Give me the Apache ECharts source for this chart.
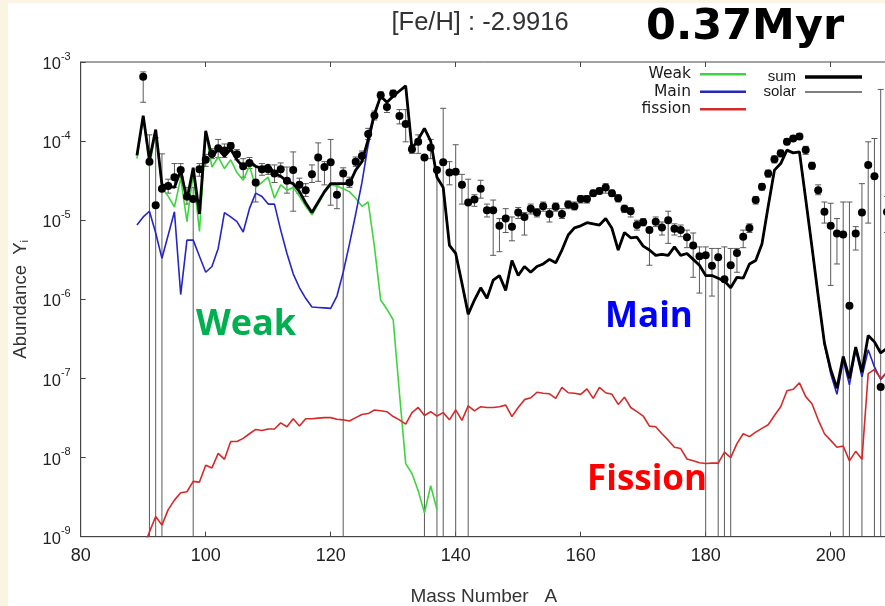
<!DOCTYPE html>
<html><head><meta charset="utf-8">
<script src="https://cdn.jsdelivr.net/npm/echarts@6/dist/echarts.min.js"></script>
<style>html,body{margin:0;padding:0;background:#fff}#c{width:885px;height:606px}</style>
</head><body><div id="c"></div>
<script>
// Mass numbers A = 89 .. 209
const massNumbers = [
  89, 90, 91, 92, 93, 94, 95, 96, 97, 98,
  99,100,101,102,103,104,105,106,107,108,
 109,110,111,112,113,114,115,116,117,118,
 119,120,121,122,123,124,125,126,127,128,
 129,130,131,132,133,134,135,136,137,138,
 139,140,141,142,143,144,145,146,147,148,
 149,150,151,152,153,154,155,156,157,158,
 159,160,161,162,163,164,165,166,167,168,
 169,170,171,172,173,174,175,176,177,178,
 179,180,181,182,183,184,185,186,187,188,
 189,190,191,192,193,194,195,196,197,198,
 199,200,201,202,203,204,205,206,207,208,
 209];

const sumValues = [
 6.6e-5,2.1e-4,5.8e-5,1.4e-4,2.8e-5,2.7e-5,2.6e-5,4.3e-5,1.8e-5,4.6e-5,
 1.2e-5,1.35e-4,6.2e-5,8.0e-5,6.4e-5,7.9e-5,5.8e-5,4.7e-5,5.6e-5,4.8e-5,
 4.5e-5,5.0e-5,3.9e-5,3.6e-5,3.1e-5,2.9e-5,2.3e-5,1.65e-5,1.25e-5,1.7e-5,
 2.3e-5,2.9e-5,2.9e-5,2.9e-5,2.9e-5,4.3e-5,5.5e-5,1.05e-4,2.2e-4,3.7e-4,
 3.1e-4,3.7e-4,4.3e-4,5.0e-4,8.0e-5,1.05e-4,1.45e-4,1.0e-4,3.5e-5,2.6e-5,
 4.8e-6,3.8e-6,1.6e-6,6.5e-7,9.8e-7,1.4e-6,1.03e-6,1.75e-6,2.0e-6,1.3e-6,
 3.1e-6,2.0e-6,2.6e-6,2.2e-6,2.6e-6,2.8e-6,3.2e-6,2.9e-6,4.2e-6,6.5e-6,
 8.0e-6,8.5e-6,9.3e-6,9.0e-6,8.7e-6,1.05e-5,7.9e-6,4.2e-6,7.0e-6,6.0e-6,
 6.1e-6,4.7e-6,4.2e-6,3.6e-6,3.7e-6,3.6e-6,4.6e-6,3.6e-6,3.8e-6,3.2e-6,
 2.7e-6,2.0e-6,2.0e-6,1.85e-6,1.7e-6,1.4e-6,1.9e-6,1.85e-6,2.8e-6,3.1e-6,
 5.0e-6,1.5e-5,4.3e-5,5.2e-5,7.7e-5,7.1e-5,7.3e-5,1.85e-5,4.6e-6,1.1e-6,
 2.8e-7,1.3e-7,7.5e-8,1.9e-7,1.0e-7,2.5e-7,1.2e-7,3.5e-7,2.9e-7,2.1e-7,
 2.4e-7];

const mainValues = [
 8.7e-6,1.1e-5,1.3e-5,6.9e-6,3.3e-6,6.5e-6,1.28e-5,1.15e-6,5.6e-6,5.6e-6,
 3.5e-6,2.2e-6,2.6e-6,4.4e-6,1.25e-5,1.1e-5,9.6e-6,7.1e-6,1.4e-5,2.2e-5,
 2.0e-5,1.6e-5,1.6e-5,7.5e-6,3.8e-6,2.1e-6,1.4e-6,1.03e-6,8.0e-7,7.9e-7,
 7.8e-7,7.7e-7,1.1e-6,2.2e-6,5.0e-6,1.2e-5,3.0e-5,9.0e-5,2.1e-4,3.7e-4,
 3.1e-4,3.7e-4,4.3e-4,5.0e-4,8.0e-5,1.05e-4,1.45e-4,1.0e-4,3.5e-5,2.6e-5,
 4.8e-6,3.8e-6,1.6e-6,6.5e-7,9.8e-7,1.4e-6,1.03e-6,1.75e-6,2.0e-6,1.3e-6,
 3.1e-6,2.0e-6,2.6e-6,2.2e-6,2.6e-6,2.8e-6,3.2e-6,2.9e-6,4.2e-6,6.5e-6,
 8.0e-6,8.5e-6,9.3e-6,9.0e-6,8.7e-6,1.05e-5,7.9e-6,4.2e-6,7.0e-6,6.0e-6,
 6.1e-6,4.7e-6,4.2e-6,3.6e-6,3.7e-6,3.6e-6,4.6e-6,3.6e-6,3.8e-6,3.2e-6,
 2.7e-6,2.0e-6,2.0e-6,1.85e-6,1.7e-6,1.4e-6,1.9e-6,1.85e-6,2.8e-6,3.1e-6,
 5.0e-6,1.5e-5,4.3e-5,5.2e-5,7.7e-5,7.1e-5,7.3e-5,1.85e-5,4.6e-6,1.1e-6,
 2.7e-7,1.15e-7,6.3e-8,1.7e-7,8.3e-8,2.3e-7,1.05e-7,2.3e-7,1.4e-7,9.7e-8,
 1.2e-7];

// Weak: A = 89 .. 137
const weakValues = [
 6.0e-5,2.0e-4,4.8e-5,1.3e-4,2.6e-5,2.0e-5,1.47e-5,3.4e-5,9.6e-6,3.9e-5,
 7.2e-6,1.3e-4,4.7e-5,6.3e-5,4.5e-5,5.8e-5,4.0e-5,3.2e-5,4.9e-5,2.6e-5,
 3.0e-5,3.5e-5,1.9e-5,2.8e-5,2.4e-5,2.6e-5,2.0e-5,1.5e-5,1.17e-5,1.6e-5,
 2.2e-5,2.8e-5,2.7e-5,2.5e-5,2.3e-5,1.9e-5,1.5e-5,1.7e-5,4.6e-6,9.8e-7,
 7.5e-7,5.5e-7,6.5e-8,8.4e-9,6.3e-9,3.8e-9,2.0e-9,4.4e-9,2.2e-9];

const fissionValues = [
 4.0e-10,7.0e-10,1.15e-9,1.8e-9,1.4e-9,2.2e-9,2.9e-9,3.6e-9,3.7e-9,5.0e-9,
 4.9e-9,8.0e-9,7.4e-9,1.13e-8,9.5e-9,1.6e-8,1.6e-8,1.75e-8,2.0e-8,2.27e-8,
 2.2e-8,2.3e-8,2.3e-8,2.75e-8,2.45e-8,3.1e-8,2.5e-8,3.1e-8,3.1e-8,3.15e-8,
 3.2e-8,3.2e-8,3.05e-8,3.0e-8,2.9e-8,3.2e-8,3.5e-8,3.6e-8,4.0e-8,3.9e-8,
 3.8e-8,3.3e-8,3.0e-8,2.65e-8,3.7e-8,4.3e-8,3.4e-8,3.8e-8,3.35e-8,3.7e-8,
 3.0e-8,4.0e-8,2.95e-8,4.5e-8,3.9e-8,4.4e-8,4.3e-8,4.3e-8,4.4e-8,4.6e-8,
 3.3e-8,4.3e-8,5.4e-8,5.7e-8,6.7e-8,6.5e-8,6.4e-8,5.6e-8,7.7e-8,6.6e-8,
 6.5e-8,6.3e-8,7.4e-8,5.6e-8,7.7e-8,6.6e-8,6.3e-8,4.7e-8,5.8e-8,4.3e-8,
 3.8e-8,3.35e-8,2.5e-8,2.45e-8,2.0e-8,1.66e-8,1.35e-8,1.3e-8,9.6e-9,9.1e-9,
 8.6e-9,8.4e-9,8.5e-9,8.5e-9,1.17e-8,1.0e-8,1.5e-8,2.0e-8,1.84e-8,2.1e-8,
 2.34e-8,2.6e-8,3.4e-8,4.4e-8,7.0e-8,7.3e-8,8.8e-8,5.9e-8,4.8e-8,3.0e-8,
 2.0e-8,1.65e-8,1.35e-8,1.4e-8,9.1e-9,1.2e-8,9.5e-9,1.15e-7,1.3e-7,1.0e-7,
 1.2e-7];

// Solar abundances with error range (0 as lower bound = error bar reaches zero)
const solarValues = [
 null,6.5e-4,5.5e-5,1.55e-5,2.5e-5,2.7e-5,3.5e-5,4.3e-5,2.0e-5,1.85e-5,
 4.4e-5,5.8e-5,6.9e-5,8.1e-5,7.6e-5,8.7e-5,6.8e-5,4.8e-5,5.3e-5,3.0e-5,
 4.4e-5,4.4e-5,3.9e-5,4.4e-5,3.15e-5,4.3e-5,2.8e-5,2.4e-5,3.8e-5,6.2e-5,
 4.7e-5,5.4e-5,2.1e-5,3.9e-5,3.0e-5,5.5e-5,6.5e-5,1.23e-4,2.1e-4,3.8e-4,
 2.7e-4,4.0e-4,2.07e-4,1.65e-4,7.9e-5,9.8e-5,6.2e-5,8.3e-5,4.3e-5,5.4e-5,
 4.0e-5,4.1e-5,2.8e-5,1.67e-5,1.83e-5,2.5e-5,1.34e-5,1.34e-5,8.5e-6,1.05e-5,
 8.3e-6,1.25e-5,1.1e-5,1.4e-5,1.25e-5,1.5e-5,1.2e-5,1.48e-5,1.2e-5,1.58e-5,
 1.5e-5,1.85e-5,1.85e-5,2.2e-5,2.35e-5,2.6e-5,2.2e-5,1.9e-5,1.4e-5,1.3e-5,
 8.7e-6,9.4e-6,7.5e-6,9.6e-6,8.1e-6,1.0e-5,7.8e-6,7.5e-6,6.1e-6,4.8e-6,
 3.5e-6,3.6e-6,2.65e-6,3.4e-6,1.8e-6,2.7e-6,3.85e-6,6.2e-6,8.0e-6,1.8e-5,
 2.65e-5,3.9e-5,5.9e-5,7.0e-5,9.8e-5,1.08e-4,1.14e-4,7.7e-5,4.9e-5,2.4e-5,
 1.28e-5,8.5e-6,6.8e-6,6.6e-6,8.3e-7,6.8e-6,1.25e-5,5.0e-5,3.6e-5,7.8e-8,
 1.27e-5];
const solarLow = [
 null,3.1e-4,0,0,0,2.2e-5,2.6e-5,3.5e-5,1.6e-5,0,
 3.6e-5,4.8e-5,6.0e-5,6.2e-5,6.2e-5,7.6e-5,5.8e-5,3.5e-5,4.5e-5,1.7e-5,
 3.7e-5,3.8e-5,3.0e-5,3.5e-5,2.2e-5,1.3e-5,2.2e-5,2.0e-5,3.0e-5,3.1e-5,
 2.8e-5,1.55e-5,1.4e-5,0,2.6e-5,4.8e-5,5.6e-5,1.05e-4,1.85e-4,3.4e-4,
 2.3e-4,3.6e-4,1.65e-4,9.8e-5,7.0e-5,7.0e-5,0,6.0e-5,0,0,
 2.8e-5,0,1.6e-5,0,1.5e-5,1.9e-5,1.1e-5,3.6e-6,4.0e-6,7.0e-6,
 5.5e-6,1.05e-5,6.5e-6,1.2e-5,1.1e-5,1.3e-5,9.5e-6,1.3e-5,1.05e-5,1.4e-5,
 1.35e-5,1.65e-5,1.65e-5,2.0e-5,2.15e-5,2.2e-5,2.0e-5,1.7e-5,1.25e-5,1.1e-5,
 7.5e-6,8.5e-6,2.7e-6,8.3e-6,6.5e-6,5.1e-6,6.5e-6,6.2e-6,4.5e-6,1.9e-6,
 1.2e-6,0,1.1e-6,0,0,0,2.2e-6,4.5e-6,7.0e-6,1.6e-5,
 2.4e-5,3.5e-5,5.3e-5,6.3e-5,9.0e-5,1.0e-4,1.05e-4,6.8e-5,4.4e-5,2.1e-5,
 9.2e-6,1.5e-6,2.8e-6,0,0,4.2e-6,0,9.2e-6,0,0,
 7.0e-6];
const solarHigh = [
 null,7.5e-4,1.2e-4,1.1e-4,6.9e-5,3.3e-5,5.2e-5,5.2e-5,2.6e-5,2.6e-5,
 5.2e-5,6.8e-5,8.0e-5,1.05e-4,9.2e-5,9.6e-5,7.8e-5,6.0e-5,6.2e-5,4.8e-5,
 5.2e-5,5.0e-5,5.0e-5,5.3e-5,4.7e-5,7.3e-5,3.4e-5,2.9e-5,5.0e-5,9.5e-5,
 5.5e-5,1.05e-4,2.8e-5,4.6e-5,3.5e-5,6.3e-5,7.5e-5,1.45e-4,2.4e-4,4.2e-4,
 3.2e-4,4.4e-4,2.5e-4,2.5e-4,8.8e-5,1.2e-4,6.5e-5,1.05e-4,4.5e-5,2.6e-4,
 5.5e-5,9.0e-5,3.8e-5,3.3e-5,2.1e-5,3.2e-5,1.6e-5,1.8e-5,1.05e-5,1.4e-5,
 1.1e-5,1.45e-5,1.25e-5,1.6e-5,1.4e-5,1.7e-5,1.4e-5,1.65e-5,1.4e-5,1.75e-5,
 1.7e-5,2.05e-5,2.05e-5,2.4e-5,2.55e-5,2.9e-5,2.4e-5,2.1e-5,1.55e-5,1.45e-5,
 1.0e-5,1.05e-5,8.0e-6,1.1e-5,9.5e-6,1.3e-5,9.0e-6,8.7e-6,7.5e-6,6.9e-6,
 4.6e-6,4.6e-6,4.4e-6,4.4e-6,4.6e-6,4.4e-6,4.4e-6,7.5e-6,9.0e-6,2.0e-5,
 2.9e-5,4.3e-5,6.5e-5,7.7e-5,1.07e-4,1.16e-4,1.23e-4,8.6e-5,5.4e-5,2.8e-5,
 1.7e-5,1.64e-5,1.05e-5,1.7e-5,1.7e-5,8.3e-6,2.9e-5,9.8e-5,1.08e-4,4.5e-4,
 2.0e-5];

const xTicks = [80, 100, 120, 140, 160, 180, 200];
const Y_MIN = 1e-9, Y_MAX = 1e-3;

const pairs = (vals) => vals.map((v, i) => [massNumbers[i], v]);
const solarPts = [], solarErr = [];
massNumbers.forEach((a, i) => {
  if (solarValues[i] == null) return;
  solarPts.push([a, solarValues[i]]);
  solarErr.push([a, solarValues[i], solarLow[i], solarHigh[i]]);
});

const chart = echarts.init(document.getElementById('c'), null, {renderer: 'canvas'});

function renderErr(params, api) {
  const x = api.value(0), lo = api.value(2), hi = api.value(3);
  const top = api.coord([x, hi]);
  const yBottom = api.coord([x, Y_MIN])[1];
  const botY = lo > 0 ? api.coord([x, lo])[1] : yBottom;
  const cap = 3;
  const st = {stroke: '#5a5a5a', lineWidth: 1};
  const ch = [
    {type: 'line', shape: {x1: top[0], y1: top[1], x2: top[0], y2: botY}, style: st},
    {type: 'line', shape: {x1: top[0] - cap, y1: top[1], x2: top[0] + cap, y2: top[1]}, style: st}
  ];
  if (lo > 0) ch.push({type: 'line', shape: {x1: top[0] - cap, y1: botY, x2: top[0] + cap, y2: botY}, style: st});
  return {type: 'group', children: ch};
}

const lineSeries = (name, data, color, width) => ({
  name, type: 'line', data, showSymbol: false, symbol: 'none',
  lineStyle: {color, width}, itemStyle: {color}, animation: false, clip: true
});

chart.setOption({
  backgroundColor: '#ffffff',
  animation: false,
  grid: {left: 80.7, top: 62, width: 806.25, height: 474.7, show: true,
         outerBoundsMode: 'none', containLabel: false,
         borderColor: '#444', borderWidth: 1, backgroundColor: 'transparent'},
  xAxis: [{
    type: 'value', min: 80, max: 209, interval: 20,
    axisLine: {lineStyle: {color: '#444'}},
    axisTick: {inside: true, length: 5, lineStyle: {color: '#444'}},
    splitLine: {show: false},
    axisLabel: {fontFamily: 'Liberation Sans', fontSize: 18, color: '#222', margin: 10,
      formatter: v => (xTicks.indexOf(v) >= 0 ? String(v) : '')},
    name: 'Mass Number   A', nameLocation: 'middle', nameGap: 51,
    nameTextStyle: {fontFamily: 'Liberation Sans', fontSize: 19, color: '#333'}
  }, {
    type: 'value', min: 80, max: 209, interval: 20, position: 'top',
    axisLine: {show: false},
    axisTick: {inside: true, length: 5, lineStyle: {color: '#444'}},
    axisLabel: {show: false}, splitLine: {show: false}
  }],
  yAxis: {
    type: 'log', logBase: 10, min: Y_MIN, max: Y_MAX, splitNumber: 6,
    axisLine: {show: true, lineStyle: {color: '#444'}},
    axisTick: {show: true, inside: true, length: 5, lineStyle: {color: '#444'}},
    splitLine: {show: false},
    axisLabel: {
      margin: 10, color: '#222',
      formatter: v => '{b|10}{s|' + Math.round(Math.log10(v)) + '}',
      rich: {
        b: {fontFamily: 'Liberation Sans', fontSize: 16.5, color: '#222', lineHeight: 22, verticalAlign: 'bottom'},
        s: {fontFamily: 'Liberation Sans', fontSize: 11, color: '#222', lineHeight: 22, verticalAlign: 'top'}
      }
    },
    name: 'Abundance  Y{sub|i}', nameLocation: 'middle', nameGap: 50, nameRotate: 90,
    nameTextStyle: {fontFamily: 'Liberation Sans', fontSize: 18.5, color: '#333',
      rich: {sub: {fontFamily: 'Liberation Sans', fontSize: 11, color: '#333', verticalAlign: 'bottom', lineHeight: 16}}}
  },
  legend: [
    {data: ['Weak', 'Main', 'fission'], orient: 'vertical', align: 'right', right: 134, top: 60.5,
     itemWidth: 46, itemHeight: 2.5, itemGap: 0, icon: 'rect', selectedMode: false,
     textStyle: {fontFamily: 'DejaVu Sans', fontSize: 15.5, color: '#1a1a1a', lineHeight: 17.5, padding: [0, 4, 0, 0]}},
    {data: ['sum'], orient: 'vertical', align: 'right', right: 18, top: 63.5,
     itemWidth: 57, itemHeight: 3.5, itemGap: 0, icon: 'rect', selectedMode: false,
     textStyle: {fontFamily: 'Liberation Sans', fontSize: 15, color: '#1a1a1a', lineHeight: 17, padding: [0, 4, 0, 0]}},
    {data: ['solar'], orient: 'vertical', align: 'right', right: 18, top: 78.5,
     itemWidth: 57, itemHeight: 1.2, itemGap: 0, icon: 'rect', selectedMode: false,
     textStyle: {fontFamily: 'Liberation Sans', fontSize: 15, color: '#1a1a1a', lineHeight: 17, padding: [0, 4, 0, 0]}}
  ],
  graphic: [
    {type: 'rect', silent: true, z: 100, shape: {x: 0, y: 0, width: 8, height: 606}, style: {fill: '#fcf4e2'}},
    {type: 'rect', silent: true, z: 100, shape: {x: 0, y: 0, width: 885, height: 3}, style: {fill: '#fcf4e2'}},
    {type: 'text', x: 391.5, y: 23, style: {text: '[Fe/H] : -2.9916', font: '25.5px "Liberation Sans"', fill: '#333', verticalAlign: 'middle'}},
    {type: 'text', x: 646, y: 28, style: {text: '0.37Myr', font: 'bold 43px "DejaVu Sans"', fill: '#000', verticalAlign: 'middle'}},
    {type: 'text', x: 196, y: 325, style: {text: 'Weak', font: 'bold 36px "Open Sans"', fill: '#00b050', verticalAlign: 'middle'}},
    {type: 'text', x: 605, y: 317, style: {text: 'Main', font: 'bold 35px "Open Sans"', fill: '#0000ff', verticalAlign: 'middle'}},
    {type: 'text', x: 587, y: 480, style: {text: 'Fission', font: 'bold 35px "Open Sans"', fill: '#ff0000', verticalAlign: 'middle'}}
  ],
  series: [
    {name: 'solarErr', type: 'custom', renderItem: renderErr, data: solarErr,
     encode: {x: 0, y: 1}, silent: true, clip: true, z: 2},
    lineSeries('Weak', pairs(weakValues), '#3cd63c', 1.6),
    lineSeries('Main', pairs(mainValues), '#2525c4', 1.6),
    lineSeries('fission', pairs(fissionValues), '#d42a2a', 1.6),
    lineSeries('sum', pairs(sumValues), '#000000', 2.8),
    {name: 'solar', type: 'scatter', data: solarPts, symbol: 'circle', symbolSize: 8,
     itemStyle: {color: '#000000', opacity: 1}, z: 3, clip: true}
  ]
});
</script>
</body></html>
